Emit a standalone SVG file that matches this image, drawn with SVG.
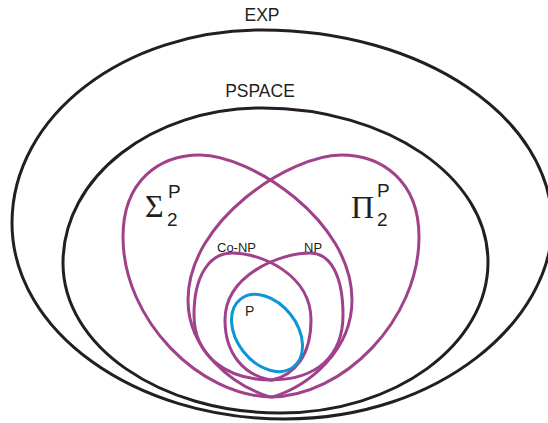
<svg xmlns="http://www.w3.org/2000/svg" width="548" height="423" viewBox="0 0 548 423">
<style>
.blk{fill:none;stroke:#231f20;stroke-width:3}
.pur{fill:none;stroke:#a0428b;stroke-width:3}
.blu{fill:none;stroke:#0d96d6;stroke-width:3}
.lbl{font-family:"Liberation Sans",Arial,sans-serif;fill:#231f20}
.grk{font-family:"Liberation Serif","Times New Roman",serif;fill:#231f20}
</style>
<rect width="548" height="423" fill="#ffffff"/>
<g id="EXP">
<path class="blk" d="M262,30 C422,30 552,117 552,225 C552,320 440,419 285,419 C134,419 12,331 12,223 C12,116 124,30 262,30 Z"/>
<text class="lbl" x="262" y="21" font-size="17.5" text-anchor="middle">EXP</text>
</g>
<g id="PSPACE">
<path class="blk" d="M262,108 C387,108 488,177 488,262 C488,345 395,413 280,413 C160,413 63,346 63,263 C63,177 152,108 262,108 Z"/>
<text class="lbl" x="260" y="97" font-size="17.5" text-anchor="middle">PSPACE</text>
</g>
<g id="Sigma2P">
<path class="pur" d="M273,397 C200,397 123,320 123,237 C123,180 160,155 200,155 C250,155 352,220 352,300 C352,350 310,385 273,397 Z"/>
<text class="grk" x="145" y="217" font-size="32">Σ</text>
<text class="lbl" x="167" y="226" font-size="19">2</text>
<text class="lbl" x="168" y="198" font-size="19">P</text>
</g>
<g id="Pi2P">
<path class="pur" d="M270,397 C343,397 419,320 419,237 C419,180 381,155 341,155 C291,155 188,220 188,300 C188,350 232,385 270,397 Z"/>
<text class="grk" x="351" y="218" font-size="32">Π</text>
<text class="lbl" x="377" y="226" font-size="19">2</text>
<text class="lbl" x="377" y="197" font-size="19">P</text>
</g>
<g id="CoNP">
<path class="pur" d="M272,380 C225,380 194,355 194,315 C194,275 210,253 232,253 C262,253 311,275 311,320 C311,355 295,375 272,380 Z"/>
<text class="lbl" x="217" y="252" font-size="13">Co-NP</text>
</g>
<g id="NP">
<path class="pur" d="M270,380 C318,380 343,355 343,315 C343,275 330,253 310,253 C280,253 225,275 225,320 C225,355 245,375 270,380 Z"/>
<text class="lbl" x="304" y="252" font-size="13">NP</text>
</g>
<g id="P">
<ellipse class="blu" cx="267" cy="333" rx="43" ry="30" transform="rotate(52 267 333)"/>
<text class="lbl" x="245" y="316" font-size="14">P</text>
</g>
</svg>
